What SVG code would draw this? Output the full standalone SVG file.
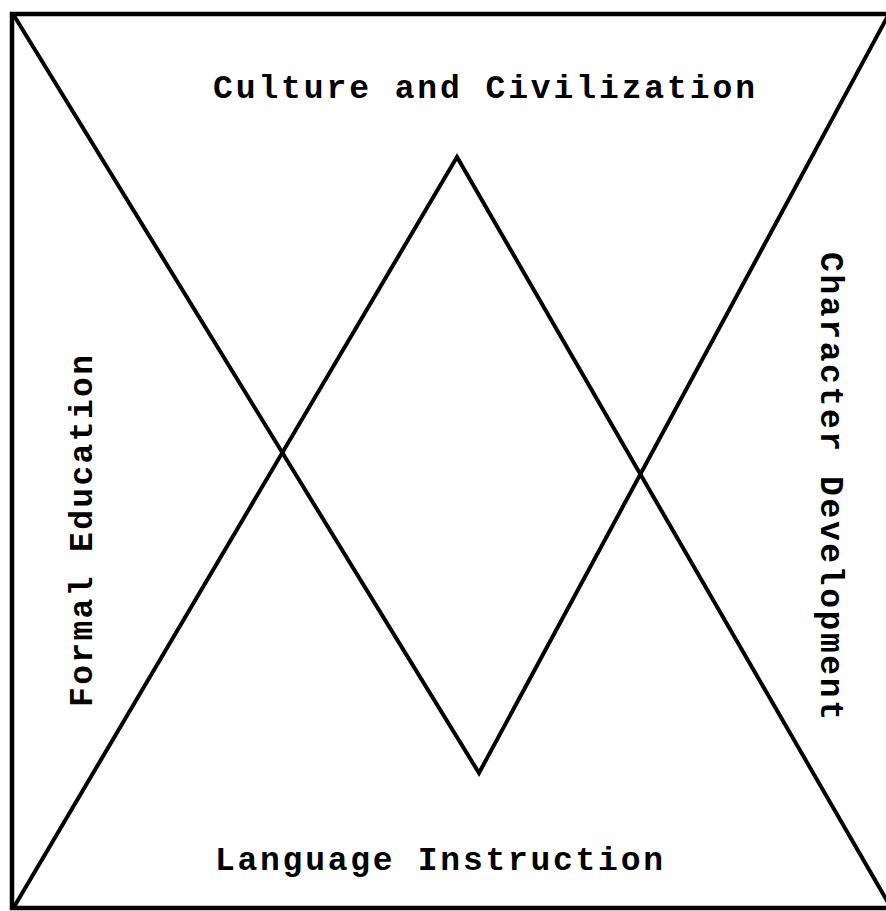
<svg xmlns="http://www.w3.org/2000/svg" width="886" height="911" viewBox="0 0 886 911">
<style>
.frame{fill:none;stroke:#000;stroke-width:4.5}
.ln{fill:none;stroke:#000;stroke-width:4;stroke-linejoin:miter;stroke-linecap:round}
.lbl{font-family:"Liberation Mono","Courier New",monospace;font-weight:bold;font-size:33px;fill:#000}
</style>
<rect width="886" height="911" fill="#fff"/>
<g id="frame"><rect class="frame" x="12" y="14" width="890" height="894"/></g>
<g id="connectors">
<polyline class="ln" points="13,14 479,773 890,12"/>
<polyline class="ln" points="14,907 457,157 890,906"/>
</g>
<g id="culture"><text class="lbl" x="213" y="98" textLength="542" lengthAdjust="spacing">Culture and Civilization</text></g>
<g id="language"><text class="lbl" x="215" y="870" textLength="448" lengthAdjust="spacing">Language Instruction</text></g>
<g id="formal"><text class="lbl" transform="translate(92,531) rotate(-90)" x="-176" y="0" textLength="352" lengthAdjust="spacing">Formal Education</text></g>
<g id="character"><text class="lbl" transform="translate(821,486) rotate(90)" x="-234" y="0" textLength="468" lengthAdjust="spacing">Character Development</text></g>
</svg>
